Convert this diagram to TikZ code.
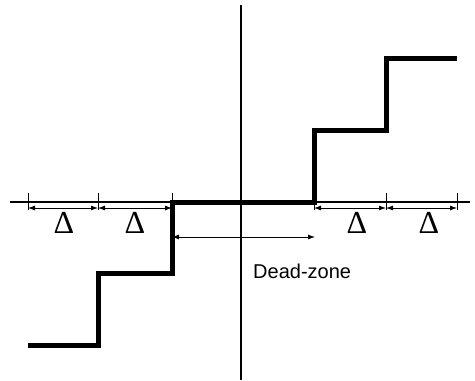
\documentclass[tikz,border=0pt]{standalone}
\usepackage{fontspec}
\setmainfont{Liberation Sans}
\newfontfamily\deltafont{Liberation Serif}
\usetikzlibrary{arrows.meta}

\begin{document}
\begin{tikzpicture}[x=1pt, y=-1pt, >={Latex[length=7pt,width=5pt]},
    axis/.style={line width=1.3pt},
    stair/.style={line width=5pt},
    dim/.style={<->, line width=0.8pt},
    deltalbl/.style={anchor=base, inner sep=0pt, font=\deltafont\fontsize{32}{34}\selectfont}]
  \useasboundingbox (0,0) rectangle (475,381);
  % axes
  \coordinate (xl) at (10,202);
  \coordinate (xr) at (470,202);
  \coordinate (yt) at (241,5);
  \coordinate (yb) at (241,380);
  \draw[axis] (xl) -- (xr);
  \draw[axis] (yt) -- (yb);
  % quantiser staircase
  \draw[stair] (28,345) -| (98,273) -| (172,202) -| (314,130) -| (386,58) -- (457,58);
  % ticks and step widths
  \foreach \n/\x in {l3/28, l2/98, l1/172, r1/314, r2/386, r3/457} {
    \coordinate (\n) at (\x,208);
    \draw[line width=0.8pt] (\x,193) -- (\x,210);
  }
  \draw[dim] (l3) -- (l2);
  \draw[dim] (l2) -- (l1);
  \draw[dim] (r1) -- (r2);
  \draw[dim] (r2) -- (r3);
  \node[deltalbl] (dl3) at (64,233) {Δ};
  \node[deltalbl] (dl2) at (135,233) {Δ};
  \node[deltalbl] (dr2) at (357,233) {Δ};
  \node[deltalbl] (dr3) at (429,233) {Δ};
  % dead zone
  \coordinate (dzl) at (172,237);
  \coordinate (dzr) at (315,237);
  \draw[dim] (dzl) -- (dzr);
  \node[anchor=base west, inner sep=0pt, font=\fontsize{20}{24}\selectfont] (dz) at (253,278) {Dead-zone};
\end{tikzpicture}
\end{document}
